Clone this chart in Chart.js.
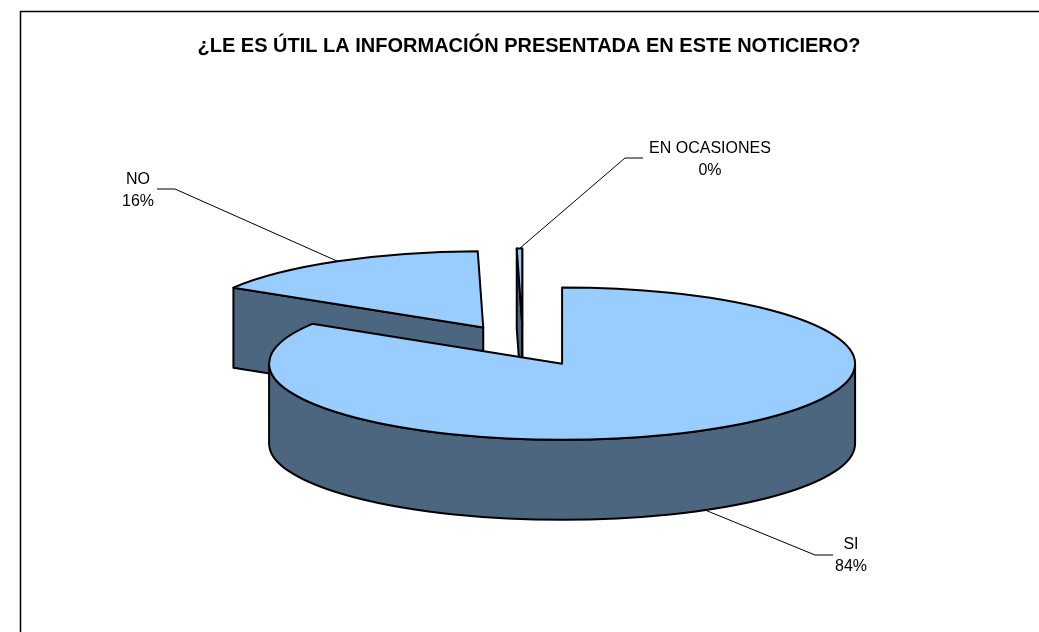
<!DOCTYPE html>
<html>
<head>
<meta charset="utf-8">
<script src="https://cdn.jsdelivr.net/npm/chart.js@4.4.0/dist/chart.umd.min.js"></script>
<style>
  html, body { margin: 0; padding: 0; background: #fff; }
</style>
</head>
<body>
<canvas id="pieChart" width="1039" height="632"></canvas>
<script>
const categories = ["SI", "NO", "EN OCASIONES"];
const percents = [84, 16, 0.3];
const chartTitle = "¿LE ES ÚTIL LA INFORMACIÓN PRESENTADA EN ESTE NOTICIERO?";

const TOP_COLOR = "#99CCFF";
const SIDE_COLOR = "#4C6680";
// where the pie sits on the page and how it is tilted
const CX = 523, CY = 345.5, TILT = 0.26, DEPTH = 80, EXPLODE = 80;

// leader line bend, short tick end and text spot for each label
const labelSpots = [
  { bend: [815, 555], end: [833, 555], text: [851, 549] },
  { bend: [175, 189], end: [157, 189], text: [138, 184] },
  { bend: [625, 158], end: [643, 158], text: [710, 153] }
];

function shiftOf(arc) {
  const m = (arc.startAngle + arc.endAngle) / 2;
  return { x: EXPLODE * Math.cos(m), y: TILT * EXPLODE * Math.sin(m) };
}

function pt(arc, ang) {
  const s = shiftOf(arc);
  const r = arc.outerRadius;
  return { x: CX + s.x + r * Math.cos(ang), y: CY + s.y + TILT * r * Math.sin(ang) };
}

function drawSlice(ctx, arc) {
  const s = shiftOf(arc);
  const r = arc.outerRadius;
  const vx = CX + s.x, vy = CY + s.y;
  const a0 = arc.startAngle, a1 = arc.endAngle;

  ctx.save();
  ctx.lineWidth = 2;
  ctx.lineJoin = "round";
  ctx.strokeStyle = "#000";
  ctx.fillStyle = SIDE_COLOR;

  // flat cut faces that look toward the viewer
  [[a0, Math.cos(a0) < 0], [a1, Math.cos(a1) > 0]].forEach(([a, show]) => {
    if (!show) return;
    const p = pt(arc, a);
    ctx.beginPath();
    ctx.moveTo(vx, vy);
    ctx.lineTo(p.x, p.y);
    ctx.lineTo(p.x, p.y + DEPTH);
    ctx.lineTo(vx, vy + DEPTH);
    ctx.closePath();
    ctx.fill();
    ctx.stroke();
  });

  // round outer wall, front half only
  const f0 = Math.max(a0, 0), f1 = Math.min(a1, Math.PI);
  if (f1 > f0) {
    ctx.beginPath();
    ctx.ellipse(vx, vy, r, TILT * r, 0, f0, f1);
    ctx.ellipse(vx, vy + DEPTH, r, TILT * r, 0, f1, f0, true);
    ctx.closePath();
    ctx.fill();
    ctx.stroke();
  }

  // top face, drawn by the arc element itself on a squashed canvas
  ctx.save();
  ctx.translate(vx, vy);
  ctx.scale(1, TILT);
  ctx.translate(-arc.x, -arc.y);
  arc.draw(ctx);
  ctx.restore();

  const p0 = pt(arc, a0);
  ctx.beginPath();
  ctx.moveTo(vx, vy);
  ctx.lineTo(p0.x, p0.y);
  ctx.ellipse(vx, vy, r, TILT * r, 0, a0, a1);
  ctx.closePath();
  ctx.stroke();
  ctx.restore();
}

const pie3d = {
  id: "pie3d",
  beforeDraw(chart) {
    const ctx = chart.ctx;
    ctx.save();
    ctx.fillStyle = "#fff";
    ctx.fillRect(0, 0, chart.width, chart.height);
    ctx.strokeStyle = "#000";
    ctx.lineWidth = 1.5;
    ctx.strokeRect(20.5, 11.5, 1100, 700);
    ctx.restore();
  },
  beforeDatasetsDraw(chart) {
    const ctx = chart.ctx;
    const arcs = chart.getDatasetMeta(0).data;
    const order = arcs.map((a, i) => i)
      .sort((i, j) => shiftOf(arcs[i]).y - shiftOf(arcs[j]).y);
    order.forEach(i => drawSlice(ctx, arcs[i]));
    return false;
  },
  afterDraw(chart) {
    const ctx = chart.ctx;
    const arcs = chart.getDatasetMeta(0).data;
    const total = percents.reduce((a, b) => a + b, 0);
    ctx.save();
    ctx.strokeStyle = "#000";
    ctx.lineWidth = 1;
    ctx.fillStyle = "#000";
    ctx.font = '16px "Liberation Sans", Arial, sans-serif';
    ctx.textAlign = "center";
    ctx.textBaseline = "alphabetic";
    arcs.forEach((arc, i) => {
      const m = (arc.startAngle + arc.endAngle) / 2;
      const p = pt(arc, m);
      if (Math.sin(m) > 0) p.y += DEPTH;
      const spot = labelSpots[i];
      ctx.beginPath();
      ctx.moveTo(p.x, p.y);
      ctx.lineTo(spot.bend[0], spot.bend[1]);
      ctx.lineTo(spot.end[0], spot.end[1]);
      ctx.stroke();
      ctx.fillText(categories[i], spot.text[0], spot.text[1]);
      ctx.fillText(Math.round(percents[i] / total * 100) + "%", spot.text[0], spot.text[1] + 22);
    });
    ctx.restore();
  }
};

new Chart(document.getElementById("pieChart"), {
  type: "pie",
  data: {
    labels: categories,
    datasets: [{
      data: percents,
      backgroundColor: TOP_COLOR,
      borderWidth: 0,
      radius: 293
    }]
  },
  options: {
    responsive: false,
    animation: false,
    devicePixelRatio: 1,
    layout: { padding: { left: 19 } },
    plugins: {
      legend: { display: false },
      tooltip: { enabled: false },
      title: {
        display: true,
        text: chartTitle,
        color: "#000",
        font: { family: '"Liberation Sans", Arial, sans-serif', size: 20, weight: "bold" },
        padding: { top: 34, bottom: 10 }
      }
    }
  },
  plugins: [pie3d]
});
</script>
</body>
</html>
